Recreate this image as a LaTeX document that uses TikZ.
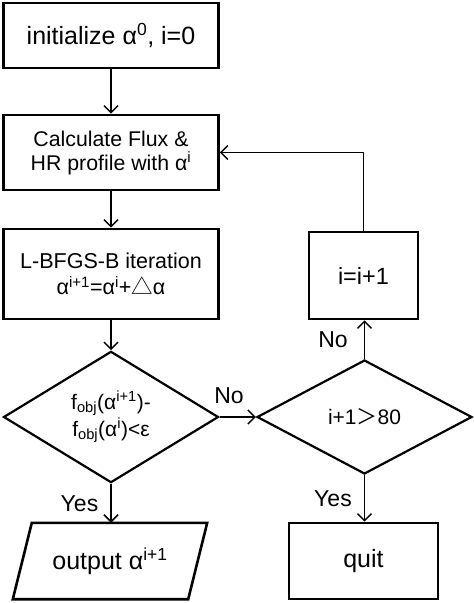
\documentclass[tikz,border=0pt]{standalone}
\usepackage{fontspec}
\setmainfont{Liberation Sans}
\newfontfamily\cjk{Noto Sans CJK SC}
\usetikzlibrary{shapes.geometric,arrows.meta}
\begin{document}
\begin{tikzpicture}[x=1pt,y=-1pt,
  box/.style={draw,line width=2.6pt,inner sep=0pt,align=center},
  dia/.style={draw,diamond,line width=2.2pt,inner sep=0pt,align=center,
    minimum width=215pt,minimum height=114pt,font=\fontsize{21}{27}\selectfont},
  arr/.style={line width=1.5pt,-{Straight Barb[length=7pt,width=14pt,line width=1.5pt]}},
  lbl/.style={font=\fontsize{23}{27}\selectfont,inner sep=0pt}]
\useasboundingbox (0,0) rectangle (474,603);
\node[box,minimum width=215pt,minimum height=65pt,font=\fontsize{25}{30}\selectfont]
  (init) at (111,35.5) {initialize α\textsuperscript{0}, i=0};
\node[box,minimum width=215pt,minimum height=75pt,font=\fontsize{21.3}{24}\selectfont]
  (calc) at (111,152.5) {Calculate Flux \&\\HR profile with α\textsuperscript{i}};
\node[box,minimum width=215pt,minimum height=90pt,font=\fontsize{21.5}{26}\selectfont]
  (lbfgs) at (111,274) {L-BFGS-B iteration\\α\textsuperscript{i+1}=α\textsuperscript{i}+{\cjk △}α};
\node[dia] (d1) at (111,417)
  {f\textsubscript{obj}(α\textsuperscript{i+1})-\\f\textsubscript{obj}(α\textsuperscript{i})<ε};
\node[dia] (d2) at (364.5,417) {i+1{\cjk ＞}80};
\node[box,minimum width=109pt,minimum height=87pt,font=\fontsize{23.5}{28}\selectfont]
  (inc) at (363.5,275.5) {i=i+1};
\node[inner sep=0pt,minimum width=175pt,minimum height=76pt,font=\fontsize{25}{30}\selectfont]
  (out) at (110,561) {output α\textsuperscript{i+1}};
\draw[line width=2.6pt,line join=miter]
  ([xshift=9.5pt]out.north west) -- ([xshift=9.5pt]out.north east)
  -- ([xshift=-9.5pt]out.south east) -- ([xshift=-9.5pt]out.south west) -- cycle;
\node[box,minimum width=149pt,minimum height=76pt,font=\fontsize{25}{30}\selectfont]
  (quit) at (363.5,561) {quit};
\draw[arr] (init) -- (calc);
\draw[arr] (calc) -- (lbfgs);
\draw[arr] (lbfgs) -- (d1);
\draw[arr] (d1.east) -- node[lbl,pos=0.26,above,yshift=13pt] {No} (d2.west);
\draw[arr] (d1.south) -- node[lbl,left,xshift=-12pt] {Yes} (out.north -| d1.south);
\draw[arr] (d2.south) -- node[lbl,left,xshift=-12pt] {Yes} (quit.north -| d2.south);
\draw[arr] (d2.north) -- node[lbl,left,xshift=-16pt] {No} (inc.south -| d2.north);
\draw[arr] (inc.north) |- (calc.east);
\end{tikzpicture}
\end{document}
